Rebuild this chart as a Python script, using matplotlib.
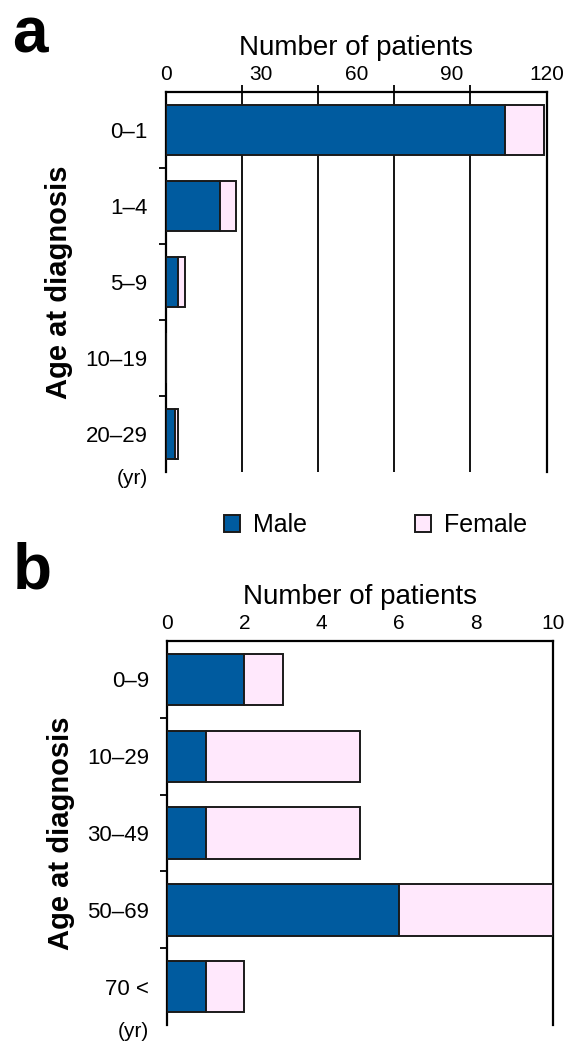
import matplotlib.pyplot as plt
from matplotlib.patches import Patch
from matplotlib.ticker import MultipleLocator, FixedLocator

plt.rcParams['font.family'] = ['Liberation Sans', 'DejaVu Sans']

# panel a data
ages_a = ['0\u20131', '1\u20134', '5\u20139', '10\u201319', '20\u201329']
male_a = [107, 17, 4, 0, 3]
female_a = [12, 5, 2, 0, 1]

# panel b data
ages_b = ['0\u20139', '10\u201329', '30\u201349', '50\u201369', '70 <']
male_b = [2, 1, 1, 6, 1]
female_b = [1, 4, 4, 4, 1]

male_col = '#005b9f'
female_col = '#ffe8fc'
edge = '#1a1a1a'


def draw_panel(ax, cats, male, female, xmax, label_step, grid_step):
    y = list(range(len(cats)))
    ax.barh(y, male, height=0.67, color=male_col, edgecolor=edge, linewidth=1.4, zorder=3)
    ax.barh(y, female, left=male, height=0.67, color=female_col, edgecolor=edge, linewidth=1.4, zorder=3)
    ax.set_ylim(len(cats) - 0.5, -0.5)
    ax.set_xlim(0, xmax)

    # category labels at bar centres, small ticks at band boundaries
    ax.set_yticks(y)
    ax.set_yticklabels(cats, fontsize=16)
    ax.yaxis.set_minor_locator(FixedLocator([i + 0.5 for i in y[:-1]]))
    ax.tick_params(axis='y', which='major', length=0, pad=13)
    ax.tick_params(axis='y', which='minor', length=5, width=1.3, direction='out')

    # x axis on top
    ax.xaxis.set_ticks_position('top')
    ax.xaxis.set_label_position('top')
    ax.xaxis.set_major_locator(MultipleLocator(label_step))
    ax.xaxis.set_minor_locator(MultipleLocator(grid_step))
    ax.tick_params(axis='x', which='major', length=0, labelsize=15, pad=6)
    ax.tick_params(axis='x', which='minor', length=5, width=1.3, direction='out')
    ax.grid(axis='x', which='minor', color='black', linewidth=1.3, zorder=0)
    ax.set_axisbelow(True)
    ax.set_xlabel('Number of patients', fontsize=20, fontweight='medium', labelpad=7)

    ax.spines['bottom'].set_visible(False)
    ax.spines['right'].set_linewidth(1.6)
    ax.spines['top'].set_linewidth(1.6)
    ax.spines['left'].set_linewidth(1.6)

    ax.set_ylabel('Age at diagnosis', fontsize=21, fontweight='bold', labelpad=9)
    ax.annotate('(yr)', xy=(0, 0), xycoords='axes fraction', xytext=(-13, -5),
                textcoords='offset points', ha='right', va='center', fontsize=15)


fig = plt.figure(figsize=(5.7, 10.42), dpi=100)

ax_a = fig.add_axes([0.2907, 0.5470, 0.6684, 0.3647])
draw_panel(ax_a, ages_a, male_a, female_a, 120, 30, 24)

ax_b = fig.add_axes([0.2935, 0.0163, 0.6761, 0.3685])
draw_panel(ax_b, ages_b, male_b, female_b, 10, 2, 2)

fig.text(0.022, 0.995, 'a', fontsize=46, fontweight='bold', va='top', ha='left')
fig.text(0.022, 0.480, 'b', fontsize=46, fontweight='bold', va='top', ha='left')

handles = [Patch(facecolor=male_col, edgecolor=edge, linewidth=1.4, label='Male'),
           Patch(facecolor=female_col, edgecolor=edge, linewidth=1.4, label='Female')]
fig.legend(handles=handles, loc='center', bbox_to_anchor=(0.659, 0.496), ncol=2,
           frameon=False, fontsize=18, handlelength=0.65, handleheight=0.65,
           columnspacing=4.3, handletextpad=0.52)

fig.savefig('out.png', dpi=100)
